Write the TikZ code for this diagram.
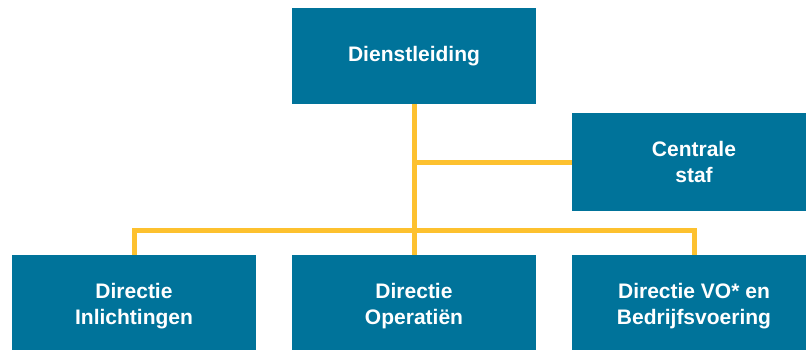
\documentclass[tikz,border=0pt]{standalone}
\usepackage{fontspec}
\setmainfont{Liberation Sans}
\definecolor{dienstblauw}{RGB}{0,115,154}
\definecolor{lijngeel}{RGB}{253,193,47}
\tikzset{
	afdeling/.style={fill=dienstblauw,text=white,font=\bfseries\fontsize{21}{26.5}\selectfont,
		align=center,minimum width=244pt,minimum height=96pt,inner sep=0pt},
	lijn/.style={draw=lijngeel,line width=5pt}
}
\begin{document}
\begin{tikzpicture}[x=1pt,y=-1pt]
		\useasboundingbox (0,0) rectangle (806,349);
		\clip (0,0) rectangle (806,349);
		%\draw[red] (0,0) grid[step=50] (806,349);

		\node [afdeling] (dienst) at (414,56) {Dienstleiding};
		\node [afdeling,minimum height=98pt] (staf) at (694,162) {Centrale\\staf};
		\node [afdeling,minimum height=102pt] (inl) at (134,306) {Directie\\Inlichtingen};
		\node [afdeling,minimum height=102pt] (oper) at (414,306) {Directie\\Operatiën};
		\node [afdeling,minimum height=102pt] (vo) at (694,306) {Directie VO* en\\Bedrijfsvoering};

		\coordinate (zij) at (414,162);
		\coordinate (knoop) at (414,230);

		\draw [lijn] (dienst.south) -- (knoop);
		\draw [lijn] (zij) -- (staf.west);
		\draw [lijn] (inl.north) |- (knoop) -| (vo.north);
		\draw [lijn] (knoop) -- (oper.north);
	\end{tikzpicture}
\end{document}
